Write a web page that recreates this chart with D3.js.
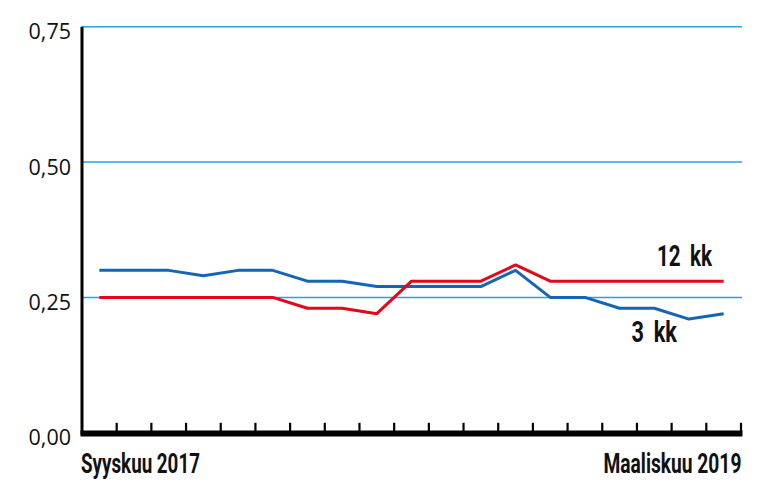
<!DOCTYPE html>
<html>
<head>
<meta charset="utf-8">
<script src="https://cdn.jsdelivr.net/npm/d3@7"></script>
<style>
  html, body { margin: 0; padding: 0; background: #fff; }
  svg { display: block; }
</style>
</head>
<body>
<svg id="chart" width="776" height="498"></svg>
<script>
// ---- data ----
const months = ["2017-09","2017-10","2017-11","2017-12","2018-01","2018-02","2018-03",
  "2018-04","2018-05","2018-06","2018-07","2018-08","2018-09","2018-10","2018-11",
  "2018-12","2019-01","2019-02","2019-03"];
const series3kk  = [0.30,0.30,0.30,0.29,0.30,0.30,0.28,0.28,0.27,0.27,0.27,0.27,0.30,0.25,0.25,0.23,0.23,0.21,0.22];
const series12kk = [0.25,0.25,0.25,0.25,0.25,0.25,0.23,0.23,0.22,0.28,0.28,0.28,0.31,0.28,0.28,0.28,0.28,0.28,0.28];
const yTicks = [0, 0.25, 0.50, 0.75];
const yTickLabels = ["0,00", "0,25", "0,50", "0,75"];
const xEndLabels = ["Syyskuu 2017", "Maaliskuu 2019"];
const seriesLabels = ["3 kk", "12 kk"];

// ---- layout ----
const svg = d3.select("#chart");
const mLeft = 82, mRight = 741, mTop = 26.7, mBottom = 432.8;
const x = d3.scaleBand().domain(months).range([mLeft, mRight]).paddingInner(0).paddingOuter(0);
const y = d3.scaleLinear().domain([0, 0.75]).range([mBottom, mTop]);
const cx = m => x(m) + x.bandwidth() / 2;

const BLUE = "#1565b5", RED = "#e3071a", GRID = "#22a6e0";
const condFont = "Roboto, 'Liberation Sans', sans-serif";

// condensed text: draw, measure, then squeeze horizontally to the target width
function condText(txt, x0, y0, size, width, wordSpacing) {
  const g = svg.append("g");
  const t = g.append("text").attr("x", 0).attr("y", 0)
    .attr("font-family", condFont).attr("font-weight", 700).attr("font-size", size)
    .attr("fill", "#111").text(txt);
  if (wordSpacing) t.attr("word-spacing", wordSpacing);
  const w = t.node().getComputedTextLength();
  g.attr("transform", `translate(${x0},${y0}) scale(${width / w},1)`);
  return g;
}

// gridlines
svg.append("g").selectAll("line").data(yTicks.filter(d => d > 0)).join("line")
  .attr("x1", mLeft).attr("x2", mRight + 1)
  .attr("y1", d => y(d)).attr("y2", d => y(d))
  .attr("stroke", GRID).attr("stroke-width", 1.5);

// y labels
svg.append("g").selectAll("text").data(yTicks).join("text")
  .attr("x", 71).attr("y", d => y(d) + 4)
  .attr("text-anchor", "end").attr("dominant-baseline", "central")
  .attr("font-family", "'Open Sans', 'Noto Sans', sans-serif")
  .attr("font-weight", 400)
  .attr("font-size", 21.5).attr("fill", "#111")
  .text((d, i) => yTickLabels[i]);

// lines
const line = d3.line().x((d, i) => cx(months[i])).y(d => y(d));
svg.append("path").datum(series3kk).attr("d", line)
  .attr("fill", "none").attr("stroke", BLUE).attr("stroke-width", 3).attr("stroke-linejoin", "round");
svg.append("path").datum(series12kk).attr("d", line)
  .attr("fill", "none").attr("stroke", RED).attr("stroke-width", 3).attr("stroke-linejoin", "round");

// left axis
svg.append("line").attr("x1", mLeft).attr("x2", mLeft).attr("y1", y(0.75)).attr("y2", mBottom + 2)
  .attr("stroke", "#000").attr("stroke-width", 3);
// bottom axis (thick)
svg.append("line").attr("x1", mLeft - 1.5).attr("x2", mRight + 1.5)
  .attr("y1", mBottom + 0.6).attr("y2", mBottom + 0.6)
  .attr("stroke", "#000").attr("stroke-width", 6);
// ticks at band edges
svg.append("g").selectAll("line").data(months).join("line")
  .attr("x1", m => x(m) + x.bandwidth()).attr("x2", m => x(m) + x.bandwidth())
  .attr("y1", mBottom - 10).attr("y2", mBottom)
  .attr("stroke", "#000").attr("stroke-width", 2.2);

// x end labels
condText(xEndLabels[0], mLeft - 1, 473, 28.5, 119);
condText(xEndLabels[1], 603.5, 473, 28.5, 138);

// series labels
condText(seriesLabels[0], 631.5, 342, 29.5, 45.5, 6);
condText(seriesLabels[1], 657, 265.5, 29.5, 55, 6);
</script>
</body>
</html>
